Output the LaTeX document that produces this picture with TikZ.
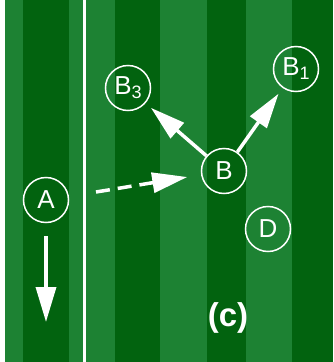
\documentclass[tikz,border=0pt]{standalone}
\usepackage{fontspec}
\setmainfont{Liberation Sans}
\usetikzlibrary{arrows.meta}
\definecolor{turflight}{HTML}{1D8233}
\definecolor{turfdark}{HTML}{02630F}
\newcommand{\sub}[1]{\raisebox{-4pt}{\fontsize{18}{18}\selectfont #1}}
\tikzset{
  plyr/.style  ={circle, draw=white, line width=1.5pt, text=white,
                 minimum size=45pt, inner sep=0pt,
                 font=\fontsize{26}{30}\selectfont},
  run/.style   ={-{Triangle[length=35pt, width=20pt]}, white, line width=3.5pt},
  pass/.style  ={run, dash pattern=on 14pt off 8pt},
  tag/.style   ={text=white, font=\fontsize{33}{38}\selectfont\bfseries},
}
\begin{document}
\begin{tikzpicture}[x=1pt, y=-1pt]
\useasboundingbox (0,0) rectangle (333,362);

% field stripes
\fill[white] (0,0) rectangle (333,362);
\fill[turfdark] (5,0) rectangle (333,362);
\foreach \xa/\xb in {5/23, 69/115, 160/207, 246/292}
  \fill[turflight] (\xa,0) rectangle (\xb,362);
\draw[white, line width=2.6pt] (84.5,0) -- (84.5,362);

% players
\node[plyr] (A)  at (46,200)  {A};
\node[plyr] (B)  at (224,171) {B};
\node[plyr] (B3) at (128,88)  {B\sub{3}};
\node[plyr] (B1) at (296,69)  {B\sub{1}};
\node[plyr] (D)  at (268,229) {D};
\node[tag]  (c)  at (228,318) {(c)};

\coordinate (Aend) at (46,322);
\coordinate (pst)  at (96,192);

\draw[run, shorten <=13pt] (A) -- (Aend);
\draw[run, shorten >=7pt] (B) -- (B3);
\draw[run, shorten >=7pt] (B) -- (B1);
\draw[pass, shorten >=14pt] (pst) -- (B);

\end{tikzpicture}
\end{document}
